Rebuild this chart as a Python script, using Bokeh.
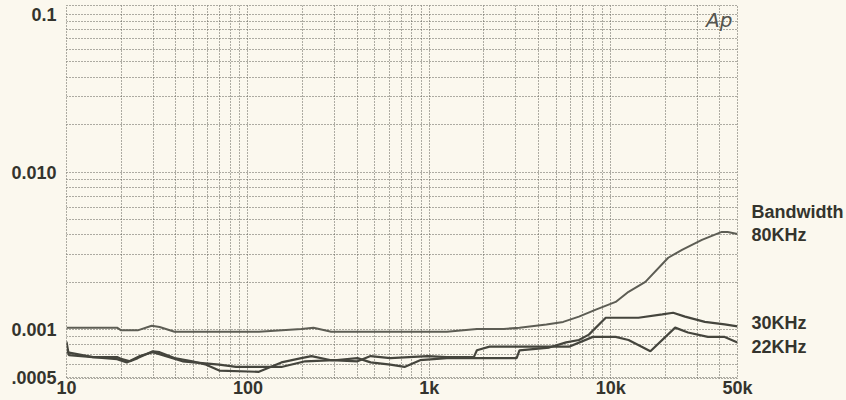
from bokeh.plotting import figure
from bokeh.models import FixedTicker, Label, Range1d, LogAxis, GlobalInlineStyleSheet
from bokeh.embed import file_html
from bokeh.resources import INLINE

# ---- data ----
freq_80 = [10, 19, 20, 24.7, 29.5, 32.6, 39.4, 63.6, 115, 197, 230, 288, 1250, 1830, 2570, 3140,
           4420, 5470, 6680, 8280, 10650, 12540, 15530, 20750, 24720, 31830, 40950, 44130, 50000]
bw_80 = [0.00103, 0.00103, 0.00099, 0.00099, 0.00106, 0.00104, 0.00097, 0.00097, 0.00097, 0.00101,
         0.00103, 0.00097, 0.00097, 0.00101, 0.00101, 0.00103, 0.00108, 0.00112, 0.00121, 0.00134,
         0.00150, 0.00174, 0.00201, 0.00286, 0.00321, 0.00371, 0.00417, 0.00417, 0.00405]

freq_30 = [10, 10.3, 19, 21.5, 25.4, 29.9, 43.6, 69.5, 86, 115, 153, 207, 300, 402, 475, 610, 730,
           890, 1250, 3030, 3140, 4580, 5680, 6680, 7580, 9390, 14220, 19240, 22090, 25690, 33040,
           42480, 50000]
bw_30 = [0.00084, 0.00069, 0.00065, 0.00062, 0.00068, 0.00072, 0.00063, 0.00060, 0.00058, 0.00058,
         0.00058, 0.00063, 0.00064, 0.00066, 0.00062, 0.00060, 0.00058, 0.00064, 0.00066, 0.00066,
         0.00074, 0.00077, 0.00083, 0.00086, 0.00093, 0.00119, 0.00119, 0.00125, 0.00128, 0.00121,
         0.00112, 0.00108, 0.00105]

freq_22 = [10, 14, 19, 20.2, 22.4, 24.7, 29.9, 32.6, 39.4, 49.4, 58.9, 69.5, 115, 153, 197, 224,
           288, 402, 475, 610, 980, 1250, 1760, 1830, 2150, 3030, 5890, 7975, 10650, 12540, 16550,
           22660, 26670, 34330, 42480, 50000]
bw_22 = [0.00072, 0.00067, 0.00067, 0.00065, 0.00063, 0.00066, 0.00073, 0.00072, 0.00066, 0.00063,
         0.00060, 0.00055, 0.00054, 0.00062, 0.00066, 0.00068, 0.00064, 0.00063, 0.00068, 0.00066,
         0.00068, 0.00067, 0.00067, 0.00074, 0.00078, 0.00078, 0.00078, 0.00090, 0.00090, 0.00086,
         0.00073, 0.00103, 0.00096, 0.00090, 0.00090, 0.00083]

x_major = [10, 100, 1000, 10000, 50000]
x_labels = ["10", "100", "1k", "10k", "50k"]
x_minor = [20, 30, 40, 50, 60, 70, 80, 90, 200, 300, 400, 500, 600, 700, 800, 900,
           2000, 3000, 4000, 5000, 6000, 7000, 8000, 9000, 20000, 30000, 40000]
y_major = [0.0005, 0.001, 0.01, 0.1]
y_labels = [".0005", "0.001", "0.010", "0.1"]
y_minor = [0.0006, 0.0007, 0.0008, 0.0009, 0.002, 0.003, 0.004, 0.005, 0.006, 0.007, 0.008, 0.009,
           0.02, 0.03, 0.04, 0.05, 0.06, 0.07, 0.08, 0.09]

# right-hand legend texts and the levels they sit at
legend_names = ["Bandwidth", "80KHz", "30KHz", "22KHz"]
legend_levels = [0.0056, 0.0040, 0.00111, 0.00078]

BG = "#fbf8ee"
GRID = "#5e5e57"
TXT = "#34342d"
FONT = "Liberation Sans"

p = figure(width=846, height=400, x_axis_type="log", y_axis_type="log",
           x_range=Range1d(10, 50000), y_range=Range1d(0.00049, 0.114),
           output_backend="svg", toolbar_location=None,
           min_border_left=66, min_border_right=103, min_border_top=5, min_border_bottom=21)
p.stylesheets = [GlobalInlineStyleSheet(css="html, body { background-color: %s; }" % BG)]
p.background_fill_color = BG
p.border_fill_color = BG
p.outline_line_color = GRID
p.outline_line_dash = "1 2"

p.xaxis.ticker = FixedTicker(ticks=x_major, minor_ticks=x_minor)
p.yaxis.ticker = FixedTicker(ticks=y_major, minor_ticks=y_minor)
p.xaxis.major_label_overrides = {t: l for t, l in zip(x_major, x_labels)}
p.yaxis.major_label_overrides = {t: l for t, l in zip(y_major, y_labels)}

right = LogAxis(ticker=FixedTicker(ticks=legend_levels, minor_ticks=[]),
                major_label_overrides={t: l for t, l in zip(legend_levels, legend_names)})
p.add_layout(right, "right")

for ax in (p.xaxis[0], p.yaxis[0], right):
    ax.axis_line_color = None
    ax.major_tick_line_color = None
    ax.minor_tick_line_color = None
    ax.major_label_text_font = FONT
    ax.major_label_text_font_style = "bold"
    ax.major_label_text_font_size = "18px"
    ax.major_label_text_color = TXT
p.xaxis.major_label_standoff = -7
p.yaxis[0].major_label_standoff = 4
right.major_label_standoff = 8

for g in (p.xgrid, p.ygrid):
    g.grid_line_color = GRID
    g.grid_line_dash = "1 2"
    g.grid_line_width = 1
    g.minor_grid_line_color = GRID
    g.minor_grid_line_dash = "1 2"
    g.minor_grid_line_width = 1

p.line(freq_80, bw_80, line_color="#5d5d54", line_width=2)
p.line(freq_30, bw_30, line_color="#45453d", line_width=2.2)
p.line(freq_22, bw_22, line_color="#45453d", line_width=2.2)

p.add_layout(Label(x=x_major[-1], y=y_major[-1], x_offset=-5, y_offset=-6, text="Ap",
                   text_font="DejaVu Sans", text_font_style="italic", text_font_size="20px",
                   text_color="#55554f", text_baseline="middle", text_align="right"))

open("out.html", "w").write(file_html(p, INLINE))
